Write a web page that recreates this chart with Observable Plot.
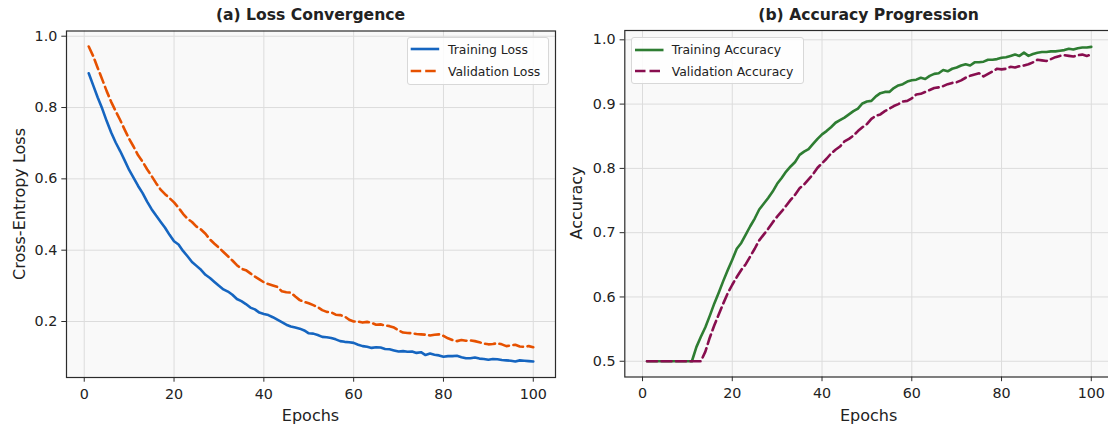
<!DOCTYPE html>
<html>
<head>
<meta charset="utf-8">
<script src="https://cdn.jsdelivr.net/npm/d3@7"></script>
<script src="https://cdn.jsdelivr.net/npm/@observablehq/plot@0.6"></script>
<style>
  html, body { margin: 0; padding: 0; background: #fff; }
  body { width: 1108px; height: 430px; overflow: hidden; position: relative; font-family: "DejaVu Sans", sans-serif; color: #222; }
  .abs { position: absolute; }
  .title { font-weight: bold; font-size: 15.6px; white-space: nowrap; transform: translateX(-50%); line-height: 1; }
  .xlabel { font-size: 16px; white-space: nowrap; transform: translateX(-50%); line-height: 1; }
  .ylabel { font-size: 16px; white-space: nowrap; transform: translate(-50%, -50%) rotate(-90deg); line-height: 1; }
  .legend { border: 1px solid #d8d8d8; border-radius: 3px; background: rgba(255,255,255,0.85); box-sizing: border-box; font-size: 12.4px; }
  .legend .row { position: absolute; left: 0; height: 20px; display: flex; align-items: center; white-space: nowrap; }
  .legend svg { display: block; }
</style>
</head>
<body>
<div id="root"></div>
<script>
// ---- data ----
const epochs = d3.range(1, 101);

const trainLoss = [
  0.896, 0.862, 0.828, 0.797, 0.762, 0.730, 0.702, 0.678, 0.652, 0.625,
  0.603, 0.580, 0.560, 0.536, 0.515, 0.497, 0.480, 0.463, 0.443, 0.425,
  0.416, 0.398, 0.383, 0.367, 0.356, 0.345, 0.331, 0.322, 0.311, 0.300,
  0.290, 0.284, 0.275, 0.263, 0.257, 0.249, 0.239, 0.234, 0.225, 0.221,
  0.218, 0.212, 0.205, 0.198, 0.191, 0.186, 0.183, 0.180, 0.175, 0.167,
  0.166, 0.162, 0.157, 0.156, 0.154, 0.150, 0.145, 0.143, 0.142, 0.140,
  0.135, 0.131, 0.129, 0.126, 0.128, 0.127, 0.123, 0.122, 0.119, 0.116,
  0.117, 0.115, 0.116, 0.112, 0.114, 0.106, 0.110, 0.107, 0.105, 0.101,
  0.103, 0.103, 0.104, 0.100, 0.097, 0.097, 0.099, 0.096, 0.095, 0.093,
  0.095, 0.094, 0.092, 0.091, 0.090, 0.088, 0.091, 0.090, 0.089, 0.088
];

const valLoss = [
  0.971, 0.944, 0.911, 0.879, 0.846, 0.816, 0.790, 0.765, 0.738, 0.712,
  0.690, 0.666, 0.648, 0.627, 0.608, 0.588, 0.570, 0.557, 0.546, 0.534,
  0.519, 0.502, 0.488, 0.479, 0.466, 0.458, 0.446, 0.430, 0.418, 0.407,
  0.395, 0.383, 0.371, 0.358, 0.348, 0.344, 0.335, 0.326, 0.318, 0.310,
  0.305, 0.301, 0.297, 0.285, 0.282, 0.281, 0.270, 0.260, 0.255, 0.251,
  0.246, 0.240, 0.232, 0.227, 0.226, 0.219, 0.218, 0.214, 0.205, 0.200,
  0.200, 0.197, 0.199, 0.196, 0.191, 0.192, 0.189, 0.187, 0.183, 0.175,
  0.169, 0.168, 0.167, 0.165, 0.164, 0.163, 0.161, 0.163, 0.164, 0.160,
  0.153, 0.148, 0.145, 0.148, 0.146, 0.147, 0.145, 0.142, 0.138, 0.136,
  0.137, 0.139, 0.136, 0.131, 0.133, 0.135, 0.130, 0.129, 0.131, 0.128
];

const trainAcc = [
  0.500, 0.500, 0.500, 0.500, 0.500, 0.500, 0.500, 0.500, 0.500, 0.500,
  0.500, 0.522, 0.538, 0.553, 0.571, 0.590, 0.607, 0.625, 0.642, 0.658,
  0.675, 0.684, 0.697, 0.710, 0.722, 0.736, 0.745, 0.754, 0.764, 0.776,
  0.785, 0.795, 0.803, 0.810, 0.821, 0.826, 0.830, 0.838, 0.846, 0.853,
  0.858, 0.864, 0.871, 0.875, 0.879, 0.884, 0.889, 0.893, 0.901, 0.904,
  0.905, 0.912, 0.917, 0.919, 0.919, 0.925, 0.929, 0.931, 0.935, 0.937,
  0.938, 0.941, 0.939, 0.944, 0.947, 0.948, 0.953, 0.951, 0.955, 0.957,
  0.960, 0.962, 0.960, 0.965, 0.965, 0.966, 0.969, 0.969, 0.970, 0.972,
  0.973, 0.975, 0.977, 0.975, 0.980, 0.975, 0.978, 0.980, 0.981, 0.981,
  0.982, 0.982, 0.983, 0.984, 0.986, 0.985, 0.987, 0.988, 0.988, 0.989
];

const valAcc = [
  0.500, 0.500, 0.500, 0.500, 0.500, 0.500, 0.500, 0.500, 0.500, 0.500,
  0.500, 0.500, 0.500, 0.515, 0.537, 0.556, 0.573, 0.590, 0.606, 0.619,
  0.631, 0.642, 0.651, 0.663, 0.675, 0.688, 0.697, 0.706, 0.716, 0.725,
  0.733, 0.742, 0.751, 0.759, 0.769, 0.775, 0.783, 0.791, 0.801, 0.808,
  0.815, 0.823, 0.829, 0.834, 0.842, 0.846, 0.851, 0.858, 0.864, 0.869,
  0.877, 0.882, 0.884, 0.889, 0.893, 0.897, 0.900, 0.904, 0.905, 0.909,
  0.915, 0.916, 0.919, 0.922, 0.925, 0.926, 0.928, 0.931, 0.933, 0.934,
  0.937, 0.941, 0.944, 0.946, 0.948, 0.943, 0.947, 0.951, 0.955, 0.954,
  0.955, 0.958, 0.957, 0.959, 0.960, 0.962, 0.965, 0.969, 0.968, 0.967,
  0.970, 0.973, 0.975, 0.976, 0.975, 0.974, 0.976, 0.977, 0.975, 0.977
];

const xTicks = [0, 20, 40, 60, 80, 100];
const lossTicks = [0.2, 0.4, 0.6, 0.8, 1.0];
const accTicks = [0.5, 0.6, 0.7, 0.8, 0.9, 1.0];

const titles = ["(a) Loss Convergence", "(b) Accuracy Progression"];
const xLabel = "Epochs";
const yLabels = ["Cross-Entropy Loss", "Accuracy"];
const lossNames = ["Training Loss", "Validation Loss"];
const accNames = ["Training Accuracy", "Validation Accuracy"];
const lossColors = ["#1565C0", "#E65100"];
const accColors = ["#2E7D32", "#880E4F"];

// ---- build ----
const rows = epochs.map((e, i) => ({
  epoch: e, trainLoss: trainLoss[i], valLoss: valLoss[i], trainAcc: trainAcc[i], valAcc: valAcc[i]
}));

const root = document.getElementById("root");
const DASH = "10,4.5";

function panel({left, width, mLeft, mRight, mTop, mBottom, yDomain, yTicks, keys, colors}) {
  const p = Plot.plot({
    width, height: 430,
    marginLeft: mLeft, marginRight: mRight, marginTop: mTop, marginBottom: mBottom,
    x: {domain: [-3.95, 104.95]},
    y: {domain: yDomain},
    style: {fontFamily: "DejaVu Sans", fontSize: "14.3px", color: "#222", background: "transparent", overflow: "visible"},
    marks: [
      Plot.frame({fill: "#f9f9f9", stroke: null}),
      Plot.gridX(xTicks, {stroke: "#dcdcdc", strokeOpacity: 1, strokeWidth: 1}),
      Plot.gridY(yTicks, {stroke: "#dcdcdc", strokeOpacity: 1, strokeWidth: 1}),
      Plot.line(rows, {x: "epoch", y: keys[0], stroke: colors[0], strokeWidth: 2.6}),
      Plot.line(rows, {x: "epoch", y: keys[1], stroke: colors[1], strokeWidth: 2.6, strokeDasharray: DASH}),
      Plot.frame({stroke: "#2b2b2b", strokeWidth: 1.2}),
      Plot.axisX(xTicks, {tickSize: 4.7, tickPadding: 6.5, label: null, stroke: "#2b2b2b", tickFormat: d => String(d)}),
      Plot.axisY(yTicks, {tickSize: 4.7, tickPadding: 4.5, label: null, stroke: "#2b2b2b", tickFormat: d3.format(".1f")})
    ]
  });
  p.style.position = "absolute";
  p.style.left = left + "px";
  p.style.top = "0px";
  root.appendChild(p);
}

panel({left: 0, width: 560, mLeft: 66, mRight: 5, mTop: 30.5, mBottom: 53,
  yDomain: [0.043, 1.0146], yTicks: lossTicks, keys: ["trainLoss", "valLoss"], colors: lossColors});
panel({left: 560, width: 560, mLeft: 64.3, mRight: 7, mTop: 30, mBottom: 53.5,
  yDomain: [0.4755, 1.0145], yTicks: accTicks, keys: ["trainAcc", "valAcc"], colors: accColors});

function addDiv(cls, text, css) {
  const d = document.createElement("div");
  d.className = "abs " + cls;
  d.textContent = text;
  Object.assign(d.style, css);
  document.body.appendChild(d);
  return d;
}

addDiv("title", titles[0], {left: "310.5px", top: "8px"});
addDiv("title", titles[1], {left: "868.6px", top: "8px"});
addDiv("xlabel", xLabel, {left: "310.5px", top: "408px"});
addDiv("xlabel", xLabel, {left: "868.6px", top: "408px"});
addDiv("ylabel", yLabels[0], {left: "19.5px", top: "203.7px"});
addDiv("ylabel", yLabels[1], {left: "577px", top: "203.3px"});

function legend(x, y, w, h, names, colors, lineX0, textX) {
  const box = document.createElement("div");
  box.className = "abs legend";
  Object.assign(box.style, {left: x + "px", top: y + "px", width: w + "px", height: h + "px"});
  names.forEach((name, i) => {
    const row = document.createElement("div");
    row.className = "row";
    row.style.top = (12.3 + i * 21.7 - 10 - 1) + "px";
    const ns = "http://www.w3.org/2000/svg";
    const s = document.createElementNS(ns, "svg");
    s.setAttribute("width", textX - x - 1);
    s.setAttribute("height", 20);
    const l = document.createElementNS(ns, "line");
    l.setAttribute("x1", lineX0 - x - 1);
    l.setAttribute("x2", lineX0 - x - 1 + 28.5);
    l.setAttribute("y1", 10);
    l.setAttribute("y2", 10);
    l.setAttribute("stroke", colors[i]);
    l.setAttribute("stroke-width", 2.6);
    if (i === 1) l.setAttribute("stroke-dasharray", "10.5,4");
    s.appendChild(l);
    row.appendChild(s);
    const t = document.createElement("span");
    t.textContent = name;
    row.appendChild(t);
    box.appendChild(row);
  });
  document.body.appendChild(box);
}

legend(407, 37, 142, 47.5, lossNames, lossColors, 410.7, 448);
legend(631, 37.3, 172.5, 47, accNames, accColors, 635, 671.7);
</script>
</body>
</html>
